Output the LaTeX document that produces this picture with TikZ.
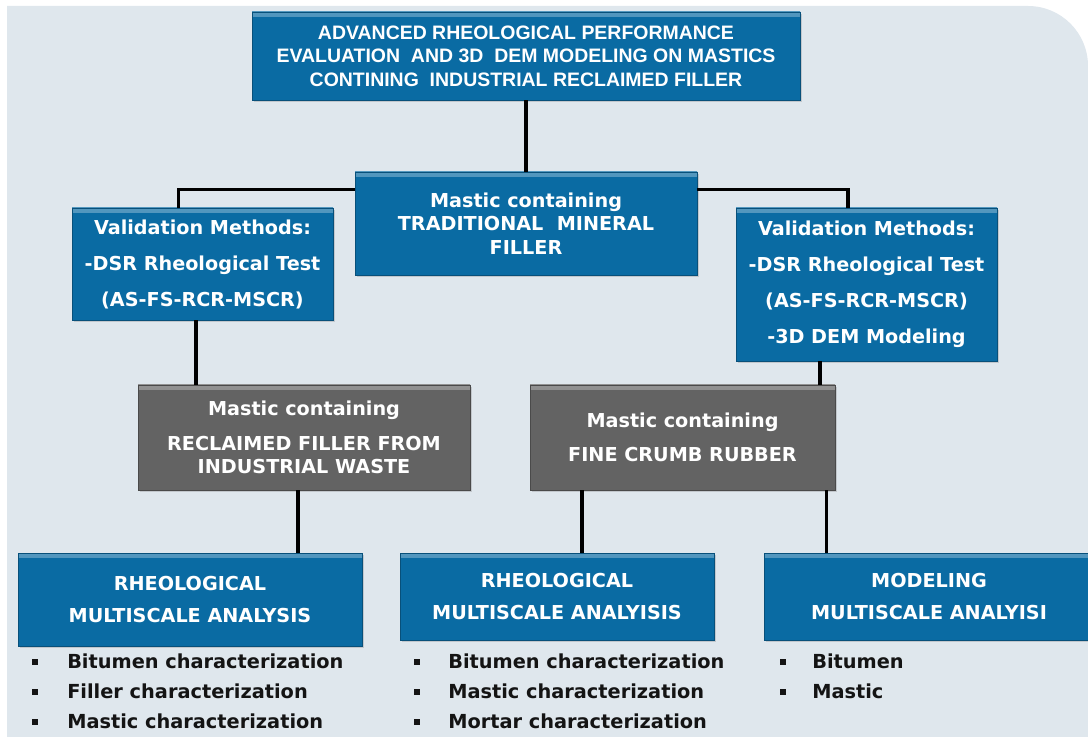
\documentclass[tikz,border=0pt]{standalone}
\usepackage{fontspec}
\setmainfont{DejaVu Sans}
\newfontfamily\titlefont{Liberation Sans}
\usetikzlibrary{shadows}
\definecolor{boxblue}{HTML}{0A6BA3}
\definecolor{boxgrey}{HTML}{636363}
\definecolor{panel}{HTML}{DFE7ED}
\definecolor{ink}{HTML}{141414}
\tikzset{
  box/.style={rectangle, inner sep=0pt, align=center, text=white,
    font=\fontsize{14.4}{17.5}\selectfont\bfseries,
    fill=#1, draw=#1!75!black, line width=0.6pt,
    drop shadow={opacity=0.3, shadow xshift=1.2pt, shadow yshift=-1.2pt},
    path picture={\shade[top color=white!30!#1, bottom color=#1]
      (path picture bounding box.north west) rectangle ([yshift=-3.5pt]path picture bounding box.north east);}},
  bluebox/.style={box=boxblue},
  greybox/.style={box=boxgrey},
  link/.style={line width=2.4pt, black},
  bullet/.style={rectangle, fill=ink, inner sep=0pt, minimum size=4.5pt},
  item/.style={anchor=base west, inner sep=0pt, text=ink, font=\fontsize{14.5}{17}\selectfont\bfseries},
}
\begin{document}
\begin{tikzpicture}[x=0.75pt, y=-0.75pt]
    \useasboundingbox (0,0) rectangle (1088,737);
    % panel
    \fill[panel] (7,737) -- (7,6) -- (1028,6) arc[start angle=90, end angle=0, radius=45pt] -- (1088,737) -- cycle;
    % boxes
    \node[bluebox, minimum width=411pt, minimum height=66pt, font=\titlefont\fontsize{14.6}{17.6}\selectfont\bfseries] (title) at (526,56)
        {ADVANCED RHEOLOGICAL PERFORMANCE\\EVALUATION\ \ AND 3D\ \ DEM MODELING ON MASTICS\\CONTINING\ \ INDUSTRIAL RECLAIMED FILLER};
    \node[bluebox, minimum width=256.5pt, minimum height=77.25pt] (trad) at (526,223.5)
        {Mastic containing\\TRADITIONAL\ \ MINERAL\\FILLER};
    \node[bluebox, minimum width=195.75pt, minimum height=84pt] (valL) at (202.5,264)
        {Validation Methods:\\[9.5pt]-DSR Rheological Test\\[9.5pt](AS-FS-RCR-MSCR)};
    \node[bluebox, minimum width=195.75pt, minimum height=114.75pt] (valR) at (866.5,284.5)
        {Validation Methods:\\[9.5pt]-DSR Rheological Test\\[9.5pt](AS-FS-RCR-MSCR)\\[9.5pt]-3D DEM Modeling};
    \node[greybox, minimum width=249pt, minimum height=78.75pt] (greyL) at (304,437.5)
        {Mastic containing\\[8.5pt]RECLAIMED FILLER FROM\\INDUSTRIAL WASTE};
    \node[greybox, minimum width=228.75pt, minimum height=78.75pt] (greyR) at (682.5,437.5)
        {Mastic containing\\[8pt]FINE CRUMB RUBBER};
    \node[bluebox, minimum width=258pt, minimum height=69.75pt] (botL) at (190,599.5)
        {RHEOLOGICAL\\[7pt]MULTISCALE ANALYSIS};
    \node[bluebox, minimum width=235.5pt, minimum height=65.25pt] (botM) at (557,596.5)
        {RHEOLOGICAL\\[7pt]MULTISCALE ANALYISIS};
    \node[bluebox, minimum width=247.5pt, minimum height=65.25pt] (botR) at (929,596.5)
        {MODELING\\[7pt]MULTISCALE ANALYISI};
    % connectors
    \draw[link] (title.south) -- (trad.north);
    \draw[link] ([yshift=-13.5pt]trad.north west) -| ([xshift=-18pt]valL.north);
    \draw[link] ([yshift=-13.5pt]trad.north east) -| ([xshift=-13.9pt]valR.north);
    \draw[link] ([xshift=-4.9pt]valL.south) -- ([xshift=-4.9pt]valL.south |- greyL.north);
    \draw[link] ([xshift=-34.9pt]valR.south) -- ([xshift=-34.9pt]valR.south |- greyR.north);
    \draw[link] ([xshift=-4.5pt]greyL.south) -- ([xshift=-4.5pt]greyL.south |- botL.north);
    \draw[link] ([xshift=-75.4pt]greyR.south) -- ([xshift=-75.4pt]greyR.south |- botM.north);
    \draw[link] ([xshift=108pt]greyR.south) -- ([xshift=108pt]greyR.south |- botR.north);
    % bullet lists
    \foreach \txt [count=\i] in {Bitumen characterization, Filler characterization, Mastic characterization} {
        \node[bullet] (lb\i) at (35,{632+30*\i}) {};
        \node[item] (lt\i) at (67,{638+30*\i}) {\txt};
    }
    \foreach \txt [count=\i] in {Bitumen characterization, Mastic characterization, Mortar characterization} {
        \node[bullet] (mb\i) at (417,{632+30*\i}) {};
        \node[item] (mt\i) at (448,{638+30*\i}) {\txt};
    }
    \foreach \txt [count=\i] in {Bitumen, Mastic} {
        \node[bullet] (rb\i) at (783,{632+30*\i}) {};
        \node[item] (rt\i) at (812,{638+30*\i}) {\txt};
    }
\end{tikzpicture}
\end{document}
